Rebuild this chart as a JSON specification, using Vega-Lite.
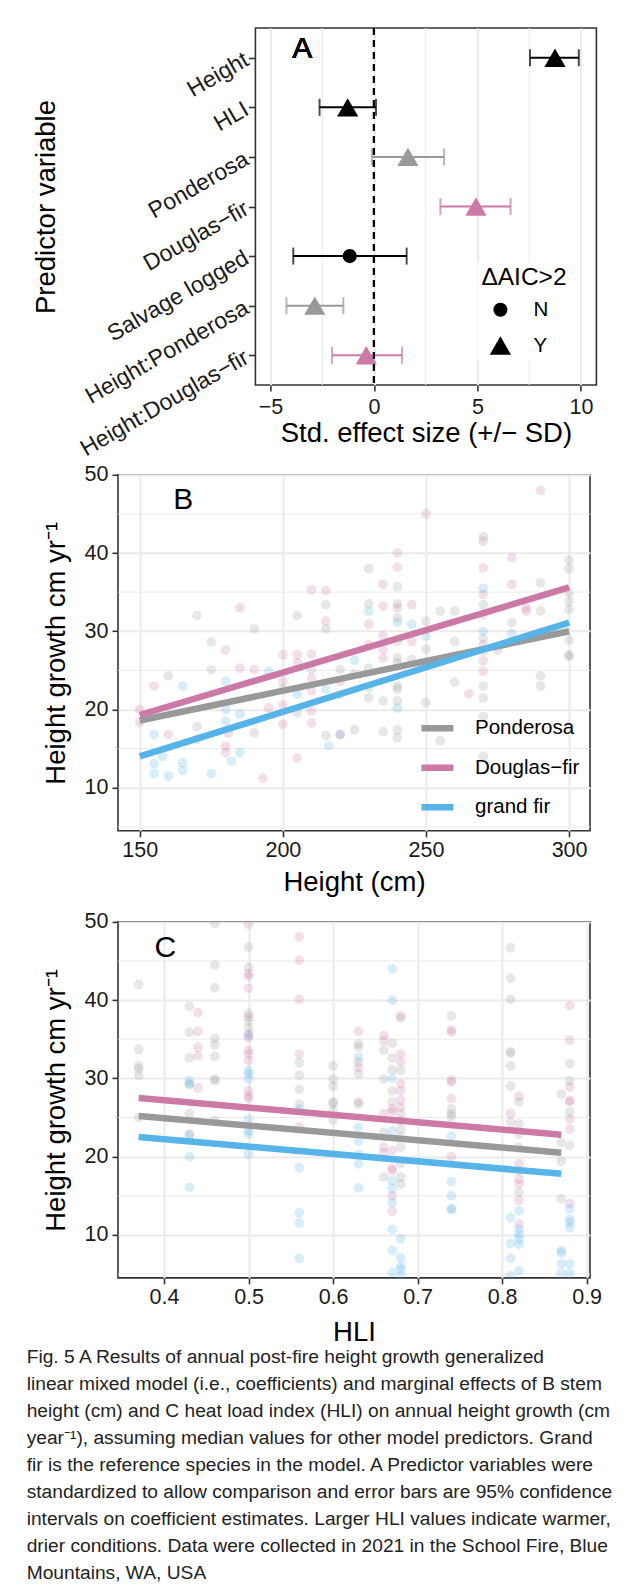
{
  "$schema": "https://vega.github.io/schema/vega-lite/v6.json",
  "background": "white",
  "padding": {"left": 26, "top": 26, "right": 5, "bottom": 5},
  "spacing": 0.8,
  "resolve": {"scale": {"color": "independent", "shape": "independent", "size": "independent"}, "legend": {"color": "independent", "shape": "independent", "size": "independent"}},
  "title": {
    "text": [
      "Fig. 5  A Results of annual post-fire height growth generalized",
      "linear mixed model (i.e., coefficients) and marginal effects of B stem",
      "height (cm) and C heat load index (HLI) on annual height growth (cm",
      "year⁻¹), assuming median values for other model predictors. Grand",
      "fir is the reference species in the model. A Predictor variables were",
      "standardized to allow comparison and error bars are 95% confidence",
      "intervals on coefficient estimates. Larger HLI values indicate warmer,",
      "drier conditions. Data were collected in 2021 in the School Fire, Blue",
      "Mountains, WA, USA"
    ],
    "orient": "bottom",
    "anchor": "start",
    "font": "Liberation Sans",
    "fontSize": 19.2,
    "fontWeight": "normal",
    "color": "#222222",
    "lineHeight": 27,
    "offset": 1.5,
    "dx": -5
  },
  "datasets": {
    "coef": [
      {"term": "Height", "est": 8.75, "lo": 7.54, "hi": 9.9, "grp": "all", "sig": "Y"},
      {"term": "HLI", "est": -1.27, "lo": -2.63, "hi": 0.1, "grp": "all", "sig": "Y"},
      {"term": "Ponderosa", "est": 1.64, "lo": -0.1, "hi": 3.39, "grp": "Ponderosa", "sig": "Y"},
      {"term": "Douglas−fir", "est": 4.93, "lo": 3.21, "hi": 6.6, "grp": "Douglas", "sig": "Y"},
      {"term": "Salvage logged", "est": -1.17, "lo": -3.9, "hi": 1.58, "grp": "all", "sig": "N"},
      {"term": "Height:Ponderosa", "est": -2.86, "lo": -4.23, "hi": -1.48, "grp": "Ponderosa", "sig": "Y"},
      {"term": "Height:Douglas−fir", "est": -0.37, "lo": -2.03, "hi": 1.36, "grp": "Douglas", "sig": "Y"}
    ],
    "hpts": [
      {"x":150,"y":20.0,"s":"D"},{"x":150,"y":18.4,"s":"D"},{"x":155,"y":16.8,"s":"G"},{"x":155,"y":13.1,"s":"G"},{"x":155,"y":11.8,"s":"G"},{"x":155,"y":23.0,"s":"D"},{"x":158,"y":14.0,"s":"G"},{"x":160,"y":11.5,"s":"G"},{"x":160,"y":16.8,"s":"D"},{"x":160,"y":24.3,"s":"P"},
      {"x":165,"y":23.0,"s":"G"},{"x":165,"y":13.2,"s":"G"},{"x":165,"y":12.2,"s":"G"},{"x":170,"y":32.0,"s":"P"},{"x":170,"y":17.8,"s":"P"},{"x":170,"y":16.2,"s":"P"},{"x":175,"y":11.8,"s":"G"},{"x":175,"y":28.6,"s":"P"},{"x":175,"y":25.1,"s":"P"},
      {"x":180,"y":27.6,"s":"D"},{"x":180,"y":23.6,"s":"G"},{"x":180,"y":20.0,"s":"G"},{"x":180,"y":18.5,"s":"G"},{"x":181,"y":17.0,"s":"D"},{"x":180,"y":15.3,"s":"D"},{"x":180,"y":14.5,"s":"D"},{"x":182,"y":13.4,"s":"G"},
      {"x":185,"y":33.0,"s":"D"},{"x":185,"y":25.3,"s":"D"},{"x":185,"y":19.4,"s":"G"},{"x":185,"y":14.5,"s":"G"},{"x":190,"y":30.3,"s":"P"},{"x":190,"y":25.1,"s":"D"},{"x":190,"y":17.0,"s":"P"},{"x":193,"y":11.2,"s":"D"},
      {"x":195,"y":24.9,"s":"G"},{"x":195,"y":20.2,"s":"D"},{"x":200,"y":27.0,"s":"D"},{"x":200,"y":23.6,"s":"D"},{"x":200,"y":22.6,"s":"P"},{"x":200,"y":20.6,"s":"D"},{"x":200,"y":18.1,"s":"D"},
      {"x":205,"y":32.0,"s":"P"},{"x":205,"y":27.0,"s":"D"},{"x":205,"y":26.0,"s":"D"},{"x":205,"y":21.9,"s":"G"},{"x":205,"y":19.6,"s":"P"},{"x":205,"y":13.8,"s":"D"},
      {"x":210,"y":35.3,"s":"D"},{"x":210,"y":27.1,"s":"D"},{"x":210,"y":25.1,"s":"P"},{"x":210,"y":24.0,"s":"D"},{"x":210,"y":22.4,"s":"D"},{"x":210,"y":19.8,"s":"D"},{"x":210,"y":18.3,"s":"D"},
      {"x":215,"y":35.2,"s":"D"},{"x":215,"y":33.4,"s":"P"},{"x":215,"y":31.3,"s":"D"},{"x":215,"y":30.3,"s":"P"},{"x":215,"y":22.6,"s":"G"},{"x":215,"y":16.7,"s":"P"},{"x":216,"y":15.4,"s":"G"},
      {"x":220,"y":25.1,"s":"P"},{"x":220,"y":23.6,"s":"D"},{"x":220,"y":21.9,"s":"P"},{"x":220,"y":16.8,"s":"G"},{"x":220,"y":16.8,"s":"D"},{"x":225,"y":26.3,"s":"G"},{"x":225,"y":24.5,"s":"D"},{"x":225,"y":17.4,"s":"P"},
      {"x":230,"y":38.0,"s":"P"},{"x":230,"y":33.5,"s":"P"},{"x":230,"y":32.6,"s":"G"},{"x":230,"y":30.9,"s":"D"},{"x":230,"y":28.3,"s":"D"},{"x":230,"y":25.3,"s":"P"},{"x":230,"y":22.8,"s":"P"},{"x":230,"y":21.5,"s":"P"},
      {"x":235,"y":36.0,"s":"D"},{"x":235,"y":33.2,"s":"D"},{"x":235,"y":29.4,"s":"D"},{"x":235,"y":27.7,"s":"D"},{"x":235,"y":26.6,"s":"D"},{"x":235,"y":21.1,"s":"P"},{"x":235,"y":17.2,"s":"P"},
      {"x":240,"y":40.0,"s":"D"},{"x":240,"y":38.2,"s":"D"},{"x":240,"y":35.7,"s":"P"},{"x":240,"y":33.5,"s":"P"},{"x":240,"y":33.0,"s":"D"},{"x":240,"y":31.7,"s":"P"},{"x":240,"y":31.1,"s":"G"},{"x":240,"y":28.7,"s":"P"},{"x":240,"y":26.6,"s":"P"},{"x":240,"y":26.0,"s":"P"},{"x":240,"y":23.0,"s":"P"},{"x":240,"y":22.6,"s":"P"},{"x":240,"y":21.1,"s":"P"},{"x":240,"y":20.2,"s":"G"},{"x":240,"y":17.4,"s":"P"},{"x":240,"y":16.4,"s":"P"},
      {"x":245,"y":33.4,"s":"D"},{"x":245,"y":30.9,"s":"G"},{"x":245,"y":28.7,"s":"D"},{"x":245,"y":26.4,"s":"P"},{"x":250,"y":45.0,"s":"D"},{"x":250,"y":31.3,"s":"P"},{"x":250,"y":29.4,"s":"G"},{"x":250,"y":27.7,"s":"P"},{"x":250,"y":20.9,"s":"P"},
      {"x":255,"y":32.6,"s":"P"},{"x":255,"y":16.0,"s":"P"},{"x":260,"y":32.6,"s":"P"},{"x":260,"y":28.7,"s":"P"},{"x":260,"y":23.5,"s":"P"},{"x":265,"y":22.0,"s":"D"},
      {"x":270,"y":42.1,"s":"P"},{"x":270,"y":41.5,"s":"D"},{"x":270,"y":38.1,"s":"D"},{"x":270,"y":35.5,"s":"G"},{"x":270,"y":34.7,"s":"D"},{"x":270,"y":33.4,"s":"P"},{"x":270,"y":32.1,"s":"P"},{"x":270,"y":30.0,"s":"G"},{"x":270,"y":29.1,"s":"P"},{"x":270,"y":28.3,"s":"D"},{"x":270,"y":27.4,"s":"P"},{"x":270,"y":26.2,"s":"D"},{"x":270,"y":24.9,"s":"D"},{"x":270,"y":23.0,"s":"P"},{"x":270,"y":21.5,"s":"P"},{"x":270,"y":19.1,"s":"P"},{"x":270,"y":14.0,"s":"P"},
      {"x":275,"y":27.6,"s":"D"},{"x":280,"y":39.4,"s":"D"},{"x":280,"y":36.0,"s":"D"},{"x":280,"y":31.1,"s":"P"},{"x":280,"y":29.7,"s":"G"},{"x":285,"y":33.0,"s":"D"},{"x":285,"y":32.6,"s":"D"},
      {"x":290,"y":48.0,"s":"D"},{"x":290,"y":36.2,"s":"P"},{"x":290,"y":32.6,"s":"P"},{"x":290,"y":24.3,"s":"P"},{"x":290,"y":23.0,"s":"P"},
      {"x":300,"y":39.1,"s":"P"},{"x":300,"y":38.0,"s":"P"},{"x":300,"y":34.9,"s":"P"},{"x":300,"y":33.8,"s":"P"},{"x":300,"y":32.8,"s":"P"},{"x":300,"y":28.9,"s":"P"},{"x":300,"y":27.0,"s":"P"},{"x":300,"y":26.8,"s":"P"}
    ],
    "hfit": [
      {"x":150,"y":18.6,"s":"P"},{"x":300,"y":30.0,"s":"P"},
      {"x":150,"y":19.3,"s":"D"},{"x":300,"y":35.6,"s":"D"},
      {"x":150,"y":14.0,"s":"G"},{"x":300,"y":31.1,"s":"G"}
    ],
    "lpts": [
      {"x":0.37,"y":42.0,"s":"P"},{"x":0.37,"y":33.7,"s":"P"},{"x":0.37,"y":31.6,"s":"P"},{"x":0.37,"y":31.2,"s":"P"},{"x":0.37,"y":30.4,"s":"P"},{"x":0.37,"y":25.0,"s":"P"},
      {"x":0.43,"y":39.2,"s":"P"},{"x":0.43,"y":35.9,"s":"P"},{"x":0.43,"y":32.6,"s":"P"},{"x":0.43,"y":29.3,"s":"P"},{"x":0.43,"y":25.5,"s":"P"},{"x":0.43,"y":22.9,"s":"P"},{"x":0.43,"y":29.7,"s":"G"},{"x":0.43,"y":29.2,"s":"G"},{"x":0.43,"y":20.0,"s":"G"},{"x":0.43,"y":16.1,"s":"G"},{"x":0.43,"y":22.7,"s":"G"},
      {"x":0.44,"y":38.4,"s":"D"},{"x":0.44,"y":36.0,"s":"D"},{"x":0.44,"y":34.0,"s":"D"},{"x":0.44,"y":32.9,"s":"D"},{"x":0.44,"y":28.8,"s":"D"},
      {"x":0.46,"y":49.8,"s":"P"},{"x":0.46,"y":44.5,"s":"P"},{"x":0.46,"y":41.6,"s":"P"},{"x":0.46,"y":35.1,"s":"P"},{"x":0.46,"y":34.3,"s":"P"},{"x":0.46,"y":32.8,"s":"P"},{"x":0.46,"y":29.9,"s":"P"},{"x":0.46,"y":29.7,"s":"P"},{"x":0.46,"y":24.6,"s":"P"},
      {"x":0.5,"y":49.7,"s":"D"},{"x":0.5,"y":46.8,"s":"P"},{"x":0.5,"y":44.2,"s":"P"},{"x":0.5,"y":43.4,"s":"D"},{"x":0.5,"y":43.0,"s":"D"},{"x":0.5,"y":41.5,"s":"D"},{"x":0.5,"y":38.3,"s":"P"},{"x":0.5,"y":37.9,"s":"D"},{"x":0.5,"y":37.4,"s":"P"},{"x":0.5,"y":36.5,"s":"P"},{"x":0.5,"y":35.7,"s":"D"},{"x":0.5,"y":35.5,"s":"G"},{"x":0.5,"y":35.2,"s":"D"},{"x":0.5,"y":33.6,"s":"D"},{"x":0.5,"y":33.1,"s":"D"},{"x":0.5,"y":32.3,"s":"D"},{"x":0.5,"y":31.0,"s":"G"},{"x":0.5,"y":30.6,"s":"G"},{"x":0.5,"y":29.9,"s":"G"},{"x":0.5,"y":28.4,"s":"D"},{"x":0.5,"y":27.8,"s":"D"},{"x":0.5,"y":27.4,"s":"D"},{"x":0.5,"y":24.8,"s":"G"},{"x":0.5,"y":23.3,"s":"G"},{"x":0.5,"y":22.9,"s":"G"},{"x":0.5,"y":20.3,"s":"G"},
      {"x":0.56,"y":48.1,"s":"D"},{"x":0.56,"y":45.1,"s":"D"},{"x":0.56,"y":40.1,"s":"D"},{"x":0.56,"y":33.1,"s":"D"},{"x":0.56,"y":32.0,"s":"P"},{"x":0.56,"y":30.4,"s":"P"},{"x":0.56,"y":28.6,"s":"P"},{"x":0.56,"y":26.7,"s":"P"},{"x":0.56,"y":26.1,"s":"G"},{"x":0.56,"y":23.8,"s":"D"},{"x":0.56,"y":18.6,"s":"G"},{"x":0.56,"y":12.8,"s":"G"},{"x":0.56,"y":11.5,"s":"G"},{"x":0.56,"y":7.0,"s":"G"},
      {"x":0.6,"y":31.6,"s":"P"},{"x":0.6,"y":29.9,"s":"P"},{"x":0.6,"y":29.0,"s":"P"},{"x":0.6,"y":27.0,"s":"P"},{"x":0.6,"y":26.8,"s":"P"},{"x":0.6,"y":25.9,"s":"P"},{"x":0.6,"y":24.7,"s":"P"},
      {"x":0.63,"y":36.0,"s":"D"},{"x":0.63,"y":34.4,"s":"P"},{"x":0.63,"y":34.0,"s":"P"},{"x":0.63,"y":32.7,"s":"G"},{"x":0.63,"y":32.1,"s":"P"},{"x":0.63,"y":31.4,"s":"D"},{"x":0.63,"y":30.6,"s":"P"},{"x":0.63,"y":27.0,"s":"D"},{"x":0.63,"y":26.7,"s":"P"},{"x":0.63,"y":23.7,"s":"G"},{"x":0.63,"y":22.0,"s":"G"},{"x":0.63,"y":20.3,"s":"G"},{"x":0.63,"y":19.1,"s":"G"},{"x":0.63,"y":16.0,"s":"G"},
      {"x":0.66,"y":35.5,"s":"D"},{"x":0.66,"y":34.8,"s":"D"},{"x":0.66,"y":33.6,"s":"P"},{"x":0.66,"y":29.9,"s":"P"},{"x":0.66,"y":25.5,"s":"D"},{"x":0.66,"y":23.1,"s":"P"},{"x":0.66,"y":21.2,"s":"D"},{"x":0.66,"y":20.5,"s":"D"},{"x":0.66,"y":17.4,"s":"P"},
      {"x":0.67,"y":34.5,"s":"P"},{"x":0.67,"y":32.6,"s":"P"},{"x":0.67,"y":31.1,"s":"P"},{"x":0.67,"y":30.0,"s":"G"},{"x":0.67,"y":28.4,"s":"P"},{"x":0.67,"y":27.0,"s":"P"},{"x":0.67,"y":26.1,"s":"D"},{"x":0.67,"y":25.7,"s":"D"},{"x":0.67,"y":23.3,"s":"G"},{"x":0.67,"y":20.8,"s":"D"},{"x":0.67,"y":18.5,"s":"D"},{"x":0.67,"y":18.2,"s":"D"},{"x":0.67,"y":16.9,"s":"G"},{"x":0.67,"y":15.9,"s":"G"},{"x":0.67,"y":15.0,"s":"D"},{"x":0.67,"y":14.1,"s":"G"},{"x":0.67,"y":13.0,"s":"D"},{"x":0.67,"y":10.7,"s":"G"},{"x":0.67,"y":8.0,"s":"G"},{"x":0.67,"y":5.2,"s":"G"},{"x":0.67,"y":44.0,"s":"G"},{"x":0.67,"y":40.0,"s":"G"},
      {"x":0.68,"y":38.0,"s":"D"},{"x":0.68,"y":37.7,"s":"P"},{"x":0.68,"y":33.1,"s":"D"},{"x":0.68,"y":32.1,"s":"D"},{"x":0.68,"y":31.0,"s":"P"},{"x":0.68,"y":29.3,"s":"D"},{"x":0.68,"y":28.4,"s":"D"},{"x":0.68,"y":27.2,"s":"D"},{"x":0.68,"y":26.3,"s":"D"},{"x":0.68,"y":25.5,"s":"P"},{"x":0.68,"y":24.6,"s":"D"},{"x":0.68,"y":23.5,"s":"P"},{"x":0.68,"y":22.5,"s":"P"},{"x":0.68,"y":21.2,"s":"P"},{"x":0.68,"y":19.1,"s":"P"},{"x":0.68,"y":17.4,"s":"P"},{"x":0.68,"y":16.5,"s":"P"},{"x":0.68,"y":9.5,"s":"G"},{"x":0.68,"y":7.1,"s":"G"},{"x":0.68,"y":6.0,"s":"G"},{"x":0.68,"y":5.6,"s":"G"},{"x":0.68,"y":4.8,"s":"G"},
      {"x":0.74,"y":38.0,"s":"P"},{"x":0.74,"y":36.2,"s":"D"},{"x":0.74,"y":35.9,"s":"D"},{"x":0.74,"y":29.8,"s":"D"},{"x":0.74,"y":29.5,"s":"D"},{"x":0.74,"y":27.4,"s":"D"},{"x":0.74,"y":26.1,"s":"P"},{"x":0.74,"y":25.5,"s":"P"},{"x":0.74,"y":25.1,"s":"P"},{"x":0.74,"y":22.6,"s":"G"},{"x":0.74,"y":20.0,"s":"D"},{"x":0.74,"y":16.8,"s":"G"},{"x":0.74,"y":15.0,"s":"G"},{"x":0.74,"y":13.4,"s":"G"},{"x":0.74,"y":13.2,"s":"G"},
      {"x":0.81,"y":46.7,"s":"P"},{"x":0.81,"y":42.8,"s":"P"},{"x":0.81,"y":40.1,"s":"P"},{"x":0.81,"y":33.4,"s":"P"},{"x":0.81,"y":33.2,"s":"P"},{"x":0.81,"y":31.6,"s":"P"},{"x":0.81,"y":29.0,"s":"P"},{"x":0.81,"y":25.5,"s":"D"},{"x":0.81,"y":24.4,"s":"P"},{"x":0.81,"y":12.2,"s":"G"},{"x":0.81,"y":8.9,"s":"G"},{"x":0.81,"y":7.0,"s":"G"},{"x":0.81,"y":4.8,"s":"G"},
      {"x":0.82,"y":27.7,"s":"D"},{"x":0.82,"y":27.0,"s":"P"},{"x":0.82,"y":24.2,"s":"P"},{"x":0.82,"y":22.9,"s":"P"},{"x":0.82,"y":21.2,"s":"P"},{"x":0.82,"y":19.1,"s":"D"},{"x":0.82,"y":18.2,"s":"D"},{"x":0.82,"y":17.1,"s":"D"},{"x":0.82,"y":16.5,"s":"D"},{"x":0.82,"y":15.4,"s":"P"},{"x":0.82,"y":14.4,"s":"D"},{"x":0.82,"y":13.1,"s":"G"},{"x":0.82,"y":11.4,"s":"D"},{"x":0.82,"y":10.7,"s":"G"},{"x":0.82,"y":10.1,"s":"G"},{"x":0.82,"y":9.5,"s":"G"},{"x":0.82,"y":8.8,"s":"G"},{"x":0.82,"y":5.4,"s":"G"},
      {"x":0.87,"y":28.0,"s":"P"},{"x":0.87,"y":21.8,"s":"P"},{"x":0.87,"y":19.4,"s":"P"},{"x":0.87,"y":14.6,"s":"P"},{"x":0.87,"y":8.0,"s":"G"},{"x":0.87,"y":7.7,"s":"G"},{"x":0.87,"y":6.3,"s":"G"},{"x":0.87,"y":5.1,"s":"G"},
      {"x":0.88,"y":39.3,"s":"D"},{"x":0.88,"y":34.9,"s":"D"},{"x":0.88,"y":31.9,"s":"P"},{"x":0.88,"y":29.7,"s":"P"},{"x":0.88,"y":28.9,"s":"D"},{"x":0.88,"y":27.2,"s":"D"},{"x":0.88,"y":27.0,"s":"D"},{"x":0.88,"y":25.7,"s":"P"},{"x":0.88,"y":24.8,"s":"D"},{"x":0.88,"y":23.5,"s":"D"},{"x":0.88,"y":21.4,"s":"P"},{"x":0.88,"y":14.0,"s":"D"},{"x":0.88,"y":13.3,"s":"G"},{"x":0.88,"y":12.0,"s":"G"},{"x":0.88,"y":11.6,"s":"G"},{"x":0.88,"y":10.9,"s":"G"},{"x":0.88,"y":6.3,"s":"G"},{"x":0.88,"y":5.1,"s":"G"}
    ],
    "lfit": [
      {"x":0.37,"y":25.2,"s":"P"},{"x":0.87,"y":20.5,"s":"P"},
      {"x":0.37,"y":27.5,"s":"D"},{"x":0.87,"y":22.8,"s":"D"},
      {"x":0.37,"y":22.5,"s":"G"},{"x":0.87,"y":17.8,"s":"G"}
    ],
    "minorA": [{"m": -2.5}, {"m": 2.5}, {"m": 7.5}],
    "minorY": [{"m": 5}, {"m": 15}, {"m": 25}, {"m": 35}, {"m": 45}]
  },
  "vconcat": [
    {
      "spacing": -87.6,
      "resolve": {"scale": {"color": "independent", "shape": "independent", "size": "independent"}, "legend": {"shape": "independent", "size": "independent"}},
      "hconcat": [
        {
          "width": 1,
          "height": 1,
          "view": {"stroke": null},
          "data": {"values": []},
          "mark": "point"
        },
        {
          "width": 341,
          "height": 357,
          "data": {"name": "coef"},
          "layer": [
            {
              "data": {"name": "minorA"},
              "mark": {"type": "rule", "strokeWidth": 1, "color": "#EBEBEB"},
              "encoding": {"x": {"field": "m", "type": "quantitative", "title": "Std. effect size (+/− SD)"}}
            },
            {
              "mark": {"type": "rule", "strokeWidth": 2},
              "encoding": {
                "x": {"field": "lo", "type": "quantitative", "scale": {"domain": [-5.73, 10.75], "nice": false, "zero": false},
                  "axis": {"values": [-5, 0, 5, 10], "labelPadding": 5, "titlePadding": 2},
                  "title": "Std. effect size (+/− SD)"},
                "x2": {"field": "hi"},
                "y": {"field": "term", "type": "nominal",
                  "scale": {"type": "point", "padding": 0.6, "domain": ["Height", "HLI", "Ponderosa", "Douglas−fir", "Salvage logged", "Height:Ponderosa", "Height:Douglas−fir"]},
                  "axis": {"labelAngle": -30, "labelAlign": "right", "labelBaseline": "middle", "labelPadding": 2, "tickSize": 7, "titlePadding": 16, "labelLimit": 0, "labelFontSize": 23},
                  "title": "Predictor variable"},
                "color": {"field": "grp", "type": "nominal", "scale": {"domain": ["all", "Ponderosa", "Douglas"], "range": ["#000000", "#999999", "#CC79A7"]}, "legend": null}
              }
            },
            {
              "mark": {"type": "tick", "thickness": 2, "size": 17},
              "encoding": {
                "x": {"field": "lo", "type": "quantitative"},
                "y": {"field": "term", "type": "nominal"},
                "color": {"field": "grp", "type": "nominal"}
              }
            },
            {
              "mark": {"type": "tick", "thickness": 2, "size": 17},
              "encoding": {
                "x": {"field": "hi", "type": "quantitative"},
                "y": {"field": "term", "type": "nominal"},
                "color": {"field": "grp", "type": "nominal"}
              }
            },
            {
              "mark": {"type": "point", "filled": true, "opacity": 1, "strokeWidth": 0},
              "encoding": {
                "x": {"field": "est", "type": "quantitative"},
                "y": {"field": "term", "type": "nominal"},
                "color": {"field": "grp", "type": "nominal"},
                "shape": {"field": "sig", "type": "nominal", "scale": {"domain": ["N", "Y"], "range": ["circle", "triangle-up"]},
                  "legend": {"title": "ΔAIC>2", "orient": "bottom-right", "offset": 25, "fillColor": "white", "padding": 4,
                    "titleFontSize": 24.5, "titleFontWeight": "normal", "titleColor": "black", "titlePadding": 9,
                    "labelFontSize": 20.5, "labelColor": "black", "labelOffset": 22, "symbolOffset": 8,
                    "symbolFillColor": "black", "symbolStrokeColor": "black", "symbolStrokeWidth": 0, "rowPadding": 14}},
                "size": {"field": "sig", "type": "nominal", "scale": {"domain": ["N", "Y"], "range": [200, 450]},
                  "legend": {"title": "ΔAIC>2", "orient": "bottom-right", "offset": 25, "fillColor": "white", "padding": 4,
                    "titleFontSize": 24.5, "titleFontWeight": "normal", "titleColor": "black", "titlePadding": 9,
                    "labelFontSize": 20.5, "labelColor": "black", "labelOffset": 22, "symbolOffset": 8,
                    "symbolFillColor": "black", "symbolStrokeColor": "black", "symbolStrokeWidth": 0, "rowPadding": 14}}
              }
            },
            {
              "mark": {"type": "rule", "strokeWidth": 2, "strokeDash": [7, 5], "color": "black"},
              "encoding": {"x": {"datum": 0}}
            },
            {
              "mark": {"type": "text", "text": "A", "fontSize": 30, "baseline": "alphabetic", "align": "center", "color": "black"},
              "encoding": {"x": {"datum": -3.46}, "y": {"datum": "Height"}}
            }
          ]
        }
      ]
    },
    {
      "spacing": 13.1,
      "resolve": {"scale": {"color": "independent"}, "legend": {"color": "independent"}},
      "vconcat": [
        {
          "width": 472,
          "height": 356,
          "layer": [
            {
              "data": {"name": "minorY"},
              "mark": {"type": "rule", "strokeWidth": 1, "color": "#EBEBEB"},
              "encoding": {"y": {"field": "m", "type": "quantitative", "title": "Height growth cm yr⁻¹"}}
            },
            {
              "data": {"name": "hpts"},
              "mark": {"type": "circle", "opacity": 0.24, "size": 95, "clip": true},
              "encoding": {
                "x": {"field": "x", "type": "quantitative", "scale": {"domain": [142.4, 307.3], "nice": false, "zero": false},
                  "axis": {"values": [150, 200, 250, 300], "labelPadding": 3, "titlePadding": 7}, "title": "Height (cm)"},
                "y": {"field": "y", "type": "quantitative", "scale": {"domain": [4.5, 50], "nice": false, "zero": false},
                  "axis": {"values": [10, 20, 30, 40, 50], "labelPadding": 4, "titlePadding": 14},
                  "title": "Height growth cm yr⁻¹"},
                "color": {"field": "s", "type": "nominal", "scale": {"domain": ["P", "D", "G"], "range": ["#999999", "#CC79A7", "#56B4E9"]},
                  "legend": {"title": null, "orient": "bottom-right", "offset": 10, "padding": 0, "labelFontSize": 20.5, "labelColor": "black",
                    "labelExpr": "datum.label == 'P' ? 'Ponderosa' : datum.label == 'D' ? 'Douglas−fir' : 'grand fir'",
                    "symbolType": "stroke", "symbolStrokeWidth": 6.5, "symbolSize": 1024, "symbolOpacity": 1, "rowPadding": 6.5, "labelOffset": 18}}
              }
            },
            {
              "data": {"name": "hfit"},
              "mark": {"type": "line", "strokeWidth": 6.5, "strokeCap": "butt"},
              "encoding": {
                "x": {"field": "x", "type": "quantitative"},
                "y": {"field": "y", "type": "quantitative"},
                "color": {"field": "s", "type": "nominal"}
              }
            },
            {
              "data": {"values": [{}]},
              "mark": {"type": "text", "text": "B", "fontSize": 30, "baseline": "alphabetic", "align": "center", "color": "black"},
              "encoding": {"x": {"datum": 165.2}, "y": {"datum": 45.6}}
            }
          ]
        },
        {
          "width": 472,
          "height": 356,
          "layer": [
            {
              "data": {"name": "minorY"},
              "mark": {"type": "rule", "strokeWidth": 1, "color": "#EBEBEB"},
              "encoding": {"y": {"field": "m", "type": "quantitative", "title": "Height growth cm yr⁻¹"}}
            },
            {
              "data": {"name": "lpts"},
              "mark": {"type": "circle", "opacity": 0.24, "size": 95, "clip": true},
              "encoding": {
                "x": {"field": "x", "type": "quantitative", "scale": {"domain": [0.3455, 0.904], "nice": false, "zero": false},
                  "axis": {"values": [0.4, 0.5, 0.6, 0.7, 0.8, 0.9], "format": ".1f", "labelPadding": 3, "titlePadding": 9.6}, "title": "HLI"},
                "y": {"field": "y", "type": "quantitative", "scale": {"domain": [4.5, 50], "nice": false, "zero": false},
                  "axis": {"values": [10, 20, 30, 40, 50], "labelPadding": 4, "titlePadding": 14},
                  "title": "Height growth cm yr⁻¹"},
                "color": {"field": "s", "type": "nominal", "scale": {"domain": ["P", "D", "G"], "range": ["#999999", "#CC79A7", "#56B4E9"]}, "legend": null}
              }
            },
            {
              "data": {"name": "lfit"},
              "mark": {"type": "line", "strokeWidth": 6.5, "strokeCap": "butt"},
              "encoding": {
                "x": {"field": "x", "type": "quantitative"},
                "y": {"field": "y", "type": "quantitative"},
                "color": {"field": "s", "type": "nominal"}
              }
            },
            {
              "data": {"values": [{}]},
              "mark": {"type": "text", "text": "C", "fontSize": 30, "baseline": "alphabetic", "align": "center", "color": "black"},
              "encoding": {"x": {"datum": 0.4015}, "y": {"datum": 45.5}}
            }
          ]
        }
      ]
    }
  ],
  "config": {
    "font": "Liberation Sans",
    "view": {"stroke": "#333333", "strokeWidth": 1.6},
    "axis": {
      "labelFont": "Liberation Sans", "labelFontSize": 21.5, "labelColor": "#1a1a1a", "labelOverlap": false,
      "titleFont": "Liberation Sans", "titleFontSize": 27.5, "titleFontWeight": "normal", "titleColor": "black",
      "gridColor": "#EBEBEB", "gridWidth": 2, "tickColor": "#333333", "tickWidth": 1.6, "tickSize": 6, "domain": false
    },
    "legend": {"labelFont": "Liberation Sans", "titleFont": "Liberation Sans"}
  }
}
